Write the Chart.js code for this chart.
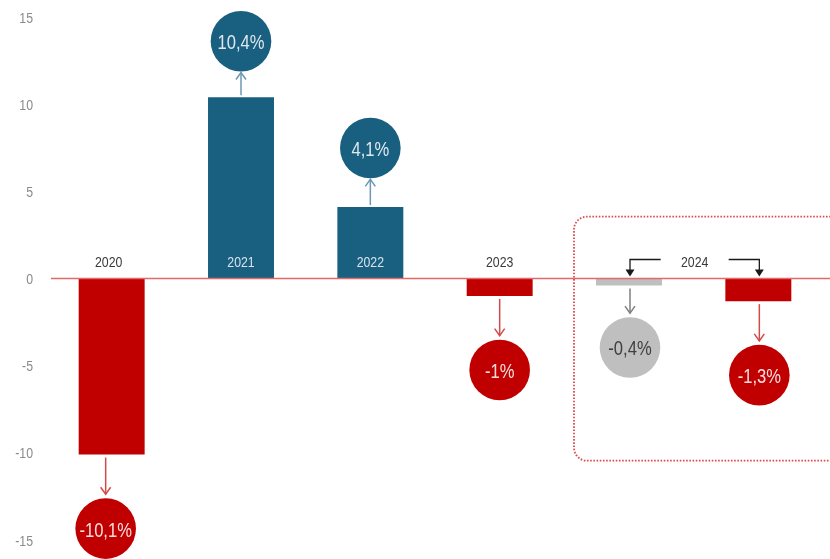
<!DOCTYPE html>
<html><head><meta charset="utf-8">
<script src="https://cdn.jsdelivr.net/npm/chart.js@4.4.1/dist/chart.umd.min.js"></script>
<style>html,body{margin:0;padding:0;background:#fff;}canvas{display:block;}</style>
</head><body>
<canvas id="c" width="830" height="559"></canvas>
<script>
const categories = ['2020', '2021', '2022', '2023', '2024', '2024'];
const growth = [-10.1, 10.4, 4.1, -1.0, -0.4, -1.3];
const kinds = ['neg', 'pos', 'pos', 'neg', 'est', 'neg'];
const yTicks = [-15, -10, -5, 0, 5, 10, 15];

const FONT = '"Liberation Sans", Arial, sans-serif';
const NARROW = 0.82;
const fill = { pos: '#185f80', neg: '#c00000', est: '#bfbfbf' };
const arrowCol = { pos: '#6b98b4', neg: '#d24a4a', est: '#7f7f7f' };
const circleTxt = { pos: '#dfe8ee', neg: '#f6dede', est: '#3f3f3f' };
const fmt = v => String(v).replace('.', ',') + '%';

function narrowText(ctx, text, x, y, align, sx) {
  ctx.save();
  ctx.translate(x, y);
  ctx.scale(sx || NARROW, 1);
  ctx.textAlign = align || 'center';
  ctx.textBaseline = 'alphabetic';
  ctx.fillText(text, 0, 0);
  ctx.restore();
}

const annot = {
  id: 'annot',
  afterDatasetsDraw(chart, args, opts) {
    const { ctx, scales: { x, y }, chartArea } = chart;
    const meta = chart.getDatasetMeta(0);
    const y0 = y.getPixelForValue(0);
    ctx.save();

    // y tick labels (narrow)
    ctx.fillStyle = '#8a8a8a';
    ctx.font = '15px ' + FONT;
    y.ticks.forEach(t => {
      narrowText(ctx, String(t.value), chartArea.left - 14, y.getPixelForValue(t.value) + 5.5, 'right');
    });

    // zero line
    ctx.strokeStyle = '#e46a6a';
    ctx.lineWidth = 1.5;
    ctx.beginPath(); ctx.moveTo(chartArea.left + 4, y0); ctx.lineTo(chart.width, y0); ctx.stroke();

    // dotted rounded box around the 2024 group
    const bl = x.getPixelForValue(4) - 55, bt = y.getPixelForValue(3.55), bb = y.getPixelForValue(-10.45), br = chart.width + 20, r = 13;
    ctx.strokeStyle = '#de4a4a'; ctx.lineWidth = 1.8; ctx.setLineDash([1.6, 1.6]);
    ctx.beginPath();
    ctx.moveTo(br, bt); ctx.lineTo(bl + r, bt); ctx.arcTo(bl, bt, bl, bt + r, r);
    ctx.lineTo(bl, bb - r); ctx.arcTo(bl, bb, bl + r, bb, r); ctx.lineTo(br, bb);
    ctx.stroke();
    ctx.setLineDash([]);

    meta.data.forEach((bar, i) => {
      const v = growth[i], k = kinds[i];
      const cx = bar.x + opts.dx[i];
      const end = bar.y;
      const gap = opts.gaps[i];
      const R = 30.3;
      let cy, a1, a2;
      if (v >= 0) { cy = end - gap; a1 = end - 2; a2 = cy + R + 1; }
      else { cy = end + gap; a1 = end + 3; a2 = cy - R - 4; }
      // arrow
      ctx.strokeStyle = arrowCol[k]; ctx.lineWidth = 1.5;
      ctx.beginPath(); ctx.moveTo(cx, a1); ctx.lineTo(cx, a2); ctx.stroke();
      const d = v >= 0 ? 1 : -1;
      ctx.beginPath();
      ctx.moveTo(cx - 5, a2 + d * 7); ctx.lineTo(cx, a2); ctx.lineTo(cx + 5, a2 + d * 7);
      ctx.stroke();
      // circle
      ctx.fillStyle = fill[k];
      ctx.beginPath(); ctx.arc(cx, cy, R, 0, Math.PI * 2); ctx.fill();
      ctx.fillStyle = circleTxt[k];
      ctx.font = '21px ' + FONT;
      narrowText(ctx, fmt(v), cx, cy + 8, 'center', 0.79);
    });

    // category labels (grouped when repeated)
    const groups = [];
    categories.forEach((c, i) => {
      const g = groups[groups.length - 1];
      if (g && g.label === c) g.idx.push(i); else groups.push({ label: c, idx: [i] });
    });
    ctx.font = '15px ' + FONT;
    groups.forEach(g => {
      const xs = g.idx.map(i => meta.data[i].x);
      const mid = (xs[0] + xs[xs.length - 1]) / 2;
      const ly = y0 - 12;
      if (g.idx.length === 1) {
        const i = g.idx[0];
        ctx.fillStyle = growth[i] > 0 ? '#d8e3ea' : '#3a3a3a';
        narrowText(ctx, g.label, mid + opts.ldx[i], ly);
      } else {
        ctx.fillStyle = '#3a3a3a';
        narrowText(ctx, g.label, mid + 1, ly);
        // bracket arrows to each bar
        ctx.strokeStyle = '#1a1a1a'; ctx.fillStyle = '#1a1a1a'; ctx.lineWidth = 1.3;
        const hy = y0 - 19;
        [[mid - 33, xs[0] + 1], [mid + 35, xs[xs.length - 1] + 1]].forEach(([sx, tx]) => {
          ctx.beginPath(); ctx.moveTo(sx, hy); ctx.lineTo(tx, hy); ctx.lineTo(tx, y0 - 8); ctx.stroke();
          ctx.beginPath(); ctx.moveTo(tx - 4.5, y0 - 9); ctx.lineTo(tx + 4.5, y0 - 9); ctx.lineTo(tx, y0 - 2); ctx.closePath(); ctx.fill();
        });
      }
    });
    ctx.restore();
  }
};

new Chart(document.getElementById('c'), {
  type: 'bar',
  data: {
    labels: categories,
    datasets: [{
      data: growth,
      backgroundColor: kinds.map(k => fill[k]),
      borderWidth: 0,
      categoryPercentage: 1,
      barPercentage: 0.51
    }]
  },
  options: {
    responsive: false,
    animation: false,
    events: [],
    layout: { padding: { top: 17, bottom: 19, left: 0, right: 7 } },
    plugins: {
      legend: { display: false },
      tooltip: { enabled: false },
      annot: { gaps: [74, 56, 59, 74, 62, 74], dx: [-6, 0, 0, 0, 1, 1], ldx: [-3, 0, 0, 0, 0, 0] }
    },
    scales: {
      x: { display: false, offset: true, grid: { display: false } },
      y: {
        min: yTicks[0], max: yTicks[yTicks.length - 1],
        afterBuildTicks: s => { s.ticks = yTicks.map(v => ({ value: v })); },
        afterFit: s => { s.width = 47; },
        grid: { display: false, drawTicks: false },
        border: { display: false },
        ticks: { display: false }
      }
    }
  },
  plugins: [annot]
});
</script>
</body></html>
